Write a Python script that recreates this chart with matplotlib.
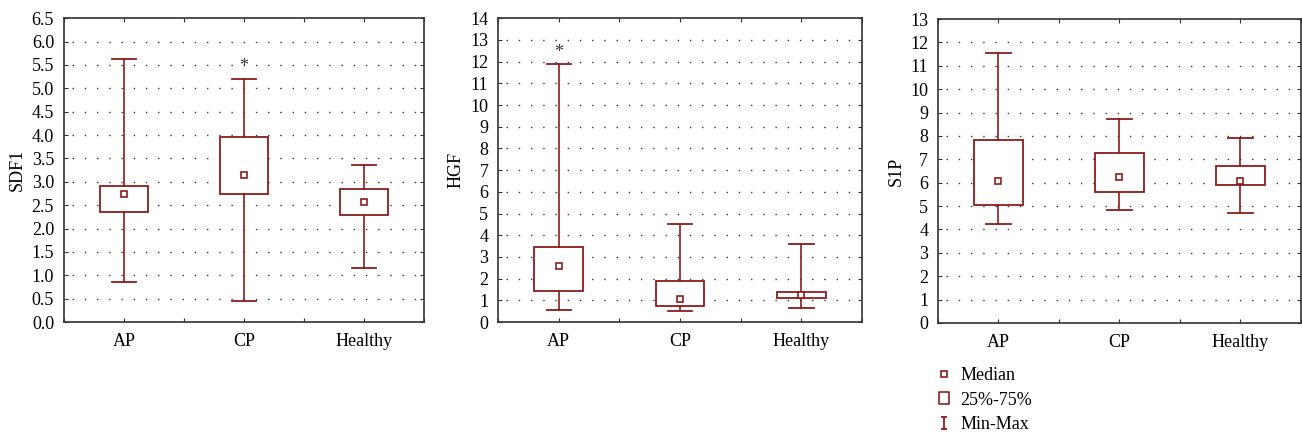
import matplotlib.pyplot as plt
from matplotlib.lines import Line2D
from matplotlib.path import Path
import numpy as np

plt.rcParams['font.family'] = ['Liberation Serif', 'DejaVu Serif']

groups = ["AP", "CP", "Healthy"]

# min, q1, median, q3, max for each group
sdf1_min = [0.86, 0.45, 1.16]
sdf1_q1 = [2.35, 2.74, 2.29]
sdf1_med = [2.73, 3.14, 2.56]
sdf1_q3 = [2.91, 3.95, 2.85]
sdf1_max = [5.62, 5.20, 3.37]

hgf_min = [0.55, 0.49, 0.66]
hgf_q1 = [1.45, 0.74, 1.12]
hgf_med = [2.58, 1.06, 1.25]
hgf_q3 = [3.46, 1.91, 1.38]
hgf_max = [11.88, 4.52, 3.58]

s1p_min = [4.24, 4.84, 4.69]
s1p_q1 = [5.04, 5.61, 5.90]
s1p_med = [6.09, 6.26, 6.09]
s1p_q3 = [7.84, 7.29, 6.73]
s1p_max = [11.57, 8.74, 7.93]

# significance marks: (group index, y)
sdf1_star = [(1, 5.46)]
hgf_star = [(0, 12.4)]
s1p_star = []

RED = "#8c1c1c"


def draw_panel(ax, mn, q1, med, q3, mx, stars, ylabel, ymax, ystep, fmt):
    xs = np.arange(1, len(groups) + 1)
    stats = []
    for i in range(len(groups)):
        stats.append(dict(med=med[i], q1=q1[i], q3=q3[i],
                          whislo=mn[i], whishi=mx[i], fliers=[]))
    ax.bxp(stats, positions=xs, widths=0.4, showfliers=False, patch_artist=True,
           boxprops=dict(facecolor="white", edgecolor=RED, lw=1.3),
           whiskerprops=dict(color=RED, lw=1.2),
           capprops=dict(color=RED, lw=1.3),
           medianprops=dict(color="none"),
           capwidths=0.2, zorder=2)
    ax.plot(xs, med, ls="none", marker="s", ms=4, mfc="white", mec=RED, mew=1.2, zorder=3)
    for gi, y in stars:
        ax.text(xs[gi], y, "*", ha="center", va="center", fontsize=13, color="#333333")

    ax.set_xlim(0.5, len(groups) + 0.5)
    ax.set_ylim(0, ymax)
    yt = np.arange(0, ymax + ystep / 2, ystep)
    ax.set_yticks(yt)
    ax.set_yticklabels([fmt.format(v) for v in yt])
    ax.set_xticks(xs)
    ax.set_xticklabels(groups)
    ax.set_xticks(np.arange(0.5, len(groups) + 1, 1.0), minor=True)
    ax.tick_params(axis="both", which="both", direction="in", top=True, right=True,
                   labelsize=13, length=3, width=0.8, color="#333333")
    ax.tick_params(axis="x", which="major", pad=8)
    ax.tick_params(axis="y", which="major", pad=7)
    ax.set_ylabel(ylabel, fontsize=13, labelpad=4)
    for y in yt[1:-1]:
        ax.axhline(y, color="#333333", lw=1.0, ls=(3, (1, 7.8)), zorder=0)
    for sp in ax.spines.values():
        sp.set_linewidth(1.2)
        sp.set_color("#333333")


fig = plt.figure(figsize=(13.02, 4.34), dpi=100)
ax1 = fig.add_axes([0.049, 0.258, 0.277, 0.700])
ax2 = fig.add_axes([0.3825, 0.258, 0.2796, 0.700])
ax3 = fig.add_axes([0.7204, 0.256, 0.2788, 0.700])

draw_panel(ax1, sdf1_min, sdf1_q1, sdf1_med, sdf1_q3, sdf1_max, sdf1_star,
           "SDF1", 6.5, 0.5, "{:.1f}")
draw_panel(ax2, hgf_min, hgf_q1, hgf_med, hgf_q3, hgf_max, hgf_star,
           "HGF", 14, 1, "{:.0f}")
draw_panel(ax3, s1p_min, s1p_q1, s1p_med, s1p_q3, s1p_max, s1p_star,
           "S1P", 13, 1, "{:.0f}")

ibar = Path([(-0.6, -1), (0.6, -1), (0, -1), (0, 1), (-0.6, 1), (0.6, 1)],
            [Path.MOVETO, Path.LINETO, Path.MOVETO, Path.LINETO, Path.MOVETO, Path.LINETO])
rect = Path([(-0.75, -1), (0.75, -1), (0.75, 1), (-0.75, 1), (-0.75, -1)])
handles = [
    Line2D([], [], ls="none", marker="s", ms=4, mfc="white", mec=RED, mew=1.2),
    Line2D([], [], ls="none", marker=rect, ms=9, mfc="white", mec=RED, mew=1.2),
    Line2D([], [], ls="none", marker=ibar, ms=8, mfc="none", mec=RED, mew=1.3),
]
fig.legend(handles, ["Median", "25%-75%", "Min-Max"], loc="upper left",
           bbox_to_anchor=(0.711, 0.175), frameon=False, fontsize=13,
           handlelength=1.0, handletextpad=0.4, labelspacing=0.42, borderpad=0)

fig.savefig("out.png", dpi=100)
